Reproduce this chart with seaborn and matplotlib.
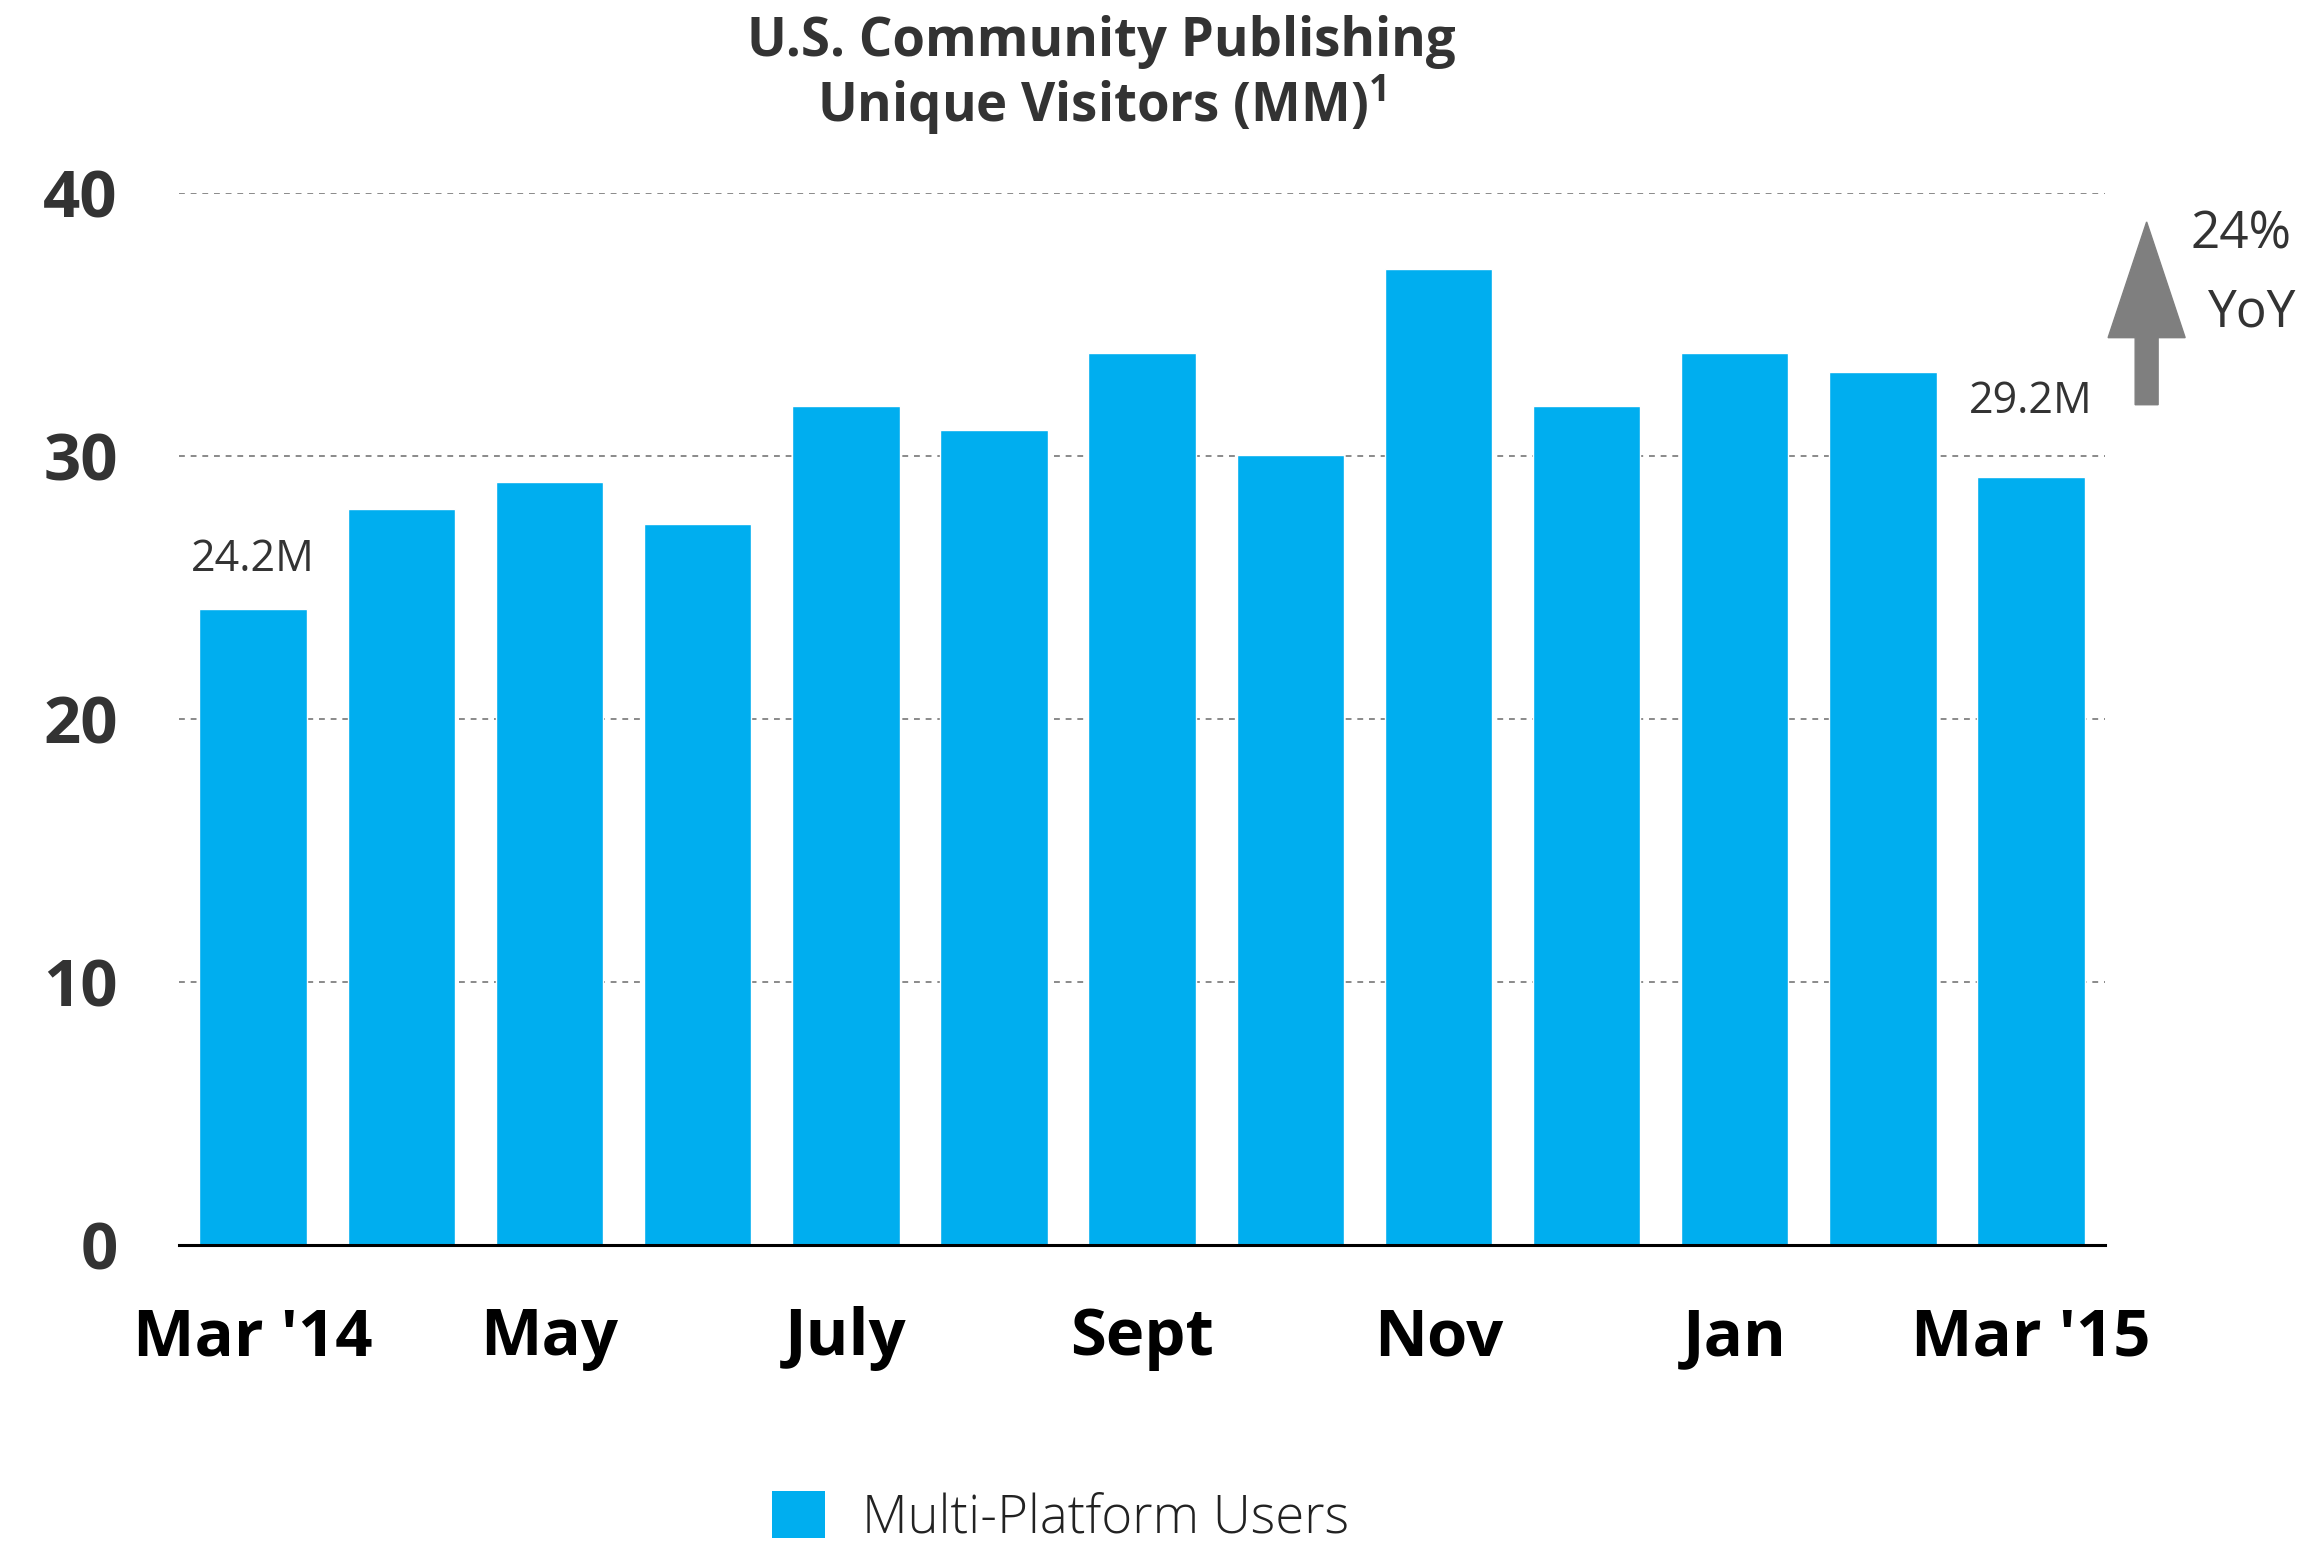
import matplotlib
matplotlib.use("Agg")
import matplotlib.pyplot as plt
import seaborn as sns
import pandas as pd
from matplotlib.patches import Patch, FancyArrow

# Monthly unique visitors (millions), Mar 2014 - Mar 2015
months = ["Mar '14", "Apr", "May", "Jun", "July", "Aug", "Sept",
          "Oct", "Nov", "Dec", "Jan", "Feb", "Mar '15"]
visitors = [24.2, 28.0, 29.0, 27.4, 31.9, 31.0, 33.9,
            30.05, 37.1, 31.9, 33.9, 33.2, 29.2]
shown_ticks = ["Mar '14", "May", "July", "Sept", "Nov", "Jan", "Mar '15"]
y_ticks = [0, 10, 20, 30, 40]
series_name = "Multi-Platform Users"
title_lines = ["U.S. Community Publishing", r"Unique Visitors (MM)$^\mathbf{1}$"]
growth_text = ["24%", "YoY"]

BLUE = "#00AEEF"
DARK = "#333333"
FONT = ["Open Sans", "DejaVu Sans"]

sns.set_theme(style="white")
plt.rcParams["font.family"] = FONT
plt.rcParams["mathtext.fontset"] = "custom"
plt.rcParams["mathtext.bf"] = "Open Sans:bold"

df = pd.DataFrame({"month": months, "visitors": visitors})

fig = plt.figure(figsize=(23.05, 15.44), dpi=100)
ax = fig.add_axes([0.0777, 0.1936, 0.8356, 0.6814])

sns.barplot(data=df, x="month", y="visitors", order=months,
            color=BLUE, saturation=1, width=0.725, ax=ax, zorder=3)

ax.set_xlim(-0.5, len(months) - 0.5)
ax.set_ylim(0, 40)
ax.set_xlabel("")
ax.set_ylabel("")

# dotted horizontal guides
for v in y_ticks[1:]:
    ax.axhline(v, color="#8a8a8a", lw=1.4, ls=(0, (3, 3)), zorder=1)

for s in ["top", "right", "left"]:
    ax.spines[s].set_visible(False)
ax.spines["bottom"].set_color("black")
ax.spines["bottom"].set_linewidth(2.2)
ax.spines["bottom"].set_zorder(4)

ax.set_yticks(y_ticks)
ax.set_yticklabels([str(t) for t in y_ticks], fontsize=47,
                   fontweight="bold", color=DARK)
tick_pos = [months.index(m) for m in shown_ticks]
ax.set_xticks(tick_pos)
ax.set_xticklabels(shown_ticks, fontsize=47, fontweight="bold", color="black")
ax.tick_params(axis="y", length=0, pad=44)
ax.tick_params(axis="x", length=0, pad=44)

# value labels on first and last bars
label_offsets = {0: 1.0, len(months) - 1: 2.0}
for i, off in label_offsets.items():
    ax.text(i, visitors[i] + off, f"{visitors[i]:.1f}M", ha="center",
            va="bottom", fontsize=31, color=DARK)

# growth arrow
arrow_x = 12.78
ax.add_patch(FancyArrow(arrow_x, 31.95, 0, 6.95, width=0.155, head_width=0.52,
                        head_length=4.4, length_includes_head=True,
                        color="#7f7f7f", clip_on=False, zorder=5))
ax.text(13.42, 38.4, growth_text[0], ha="center", va="center",
        fontsize=37, color=DARK, clip_on=False)
ax.text(13.49, 35.45, growth_text[1], ha="center", va="center",
        fontsize=37, color=DARK, clip_on=False)

fig.text(0.478, 0.973, title_lines[0], ha="center", va="center",
         fontsize=38, fontweight="bold", color=DARK)
fig.text(0.478, 0.932, title_lines[1], ha="center", va="center",
         fontsize=38, fontweight="bold", color=DARK)

handle = Patch(facecolor=BLUE, edgecolor="none")
fig.legend([handle], [series_name], loc="center left",
           bbox_to_anchor=(0.3235, 0.0165), frameon=False,
           handlelength=1.0, handleheight=1.0, handletextpad=0.7,
           labelcolor="#222222", borderpad=0,
           prop={"family": FONT, "weight": "light", "size": 38})

fig.savefig("out.png", dpi=100)
